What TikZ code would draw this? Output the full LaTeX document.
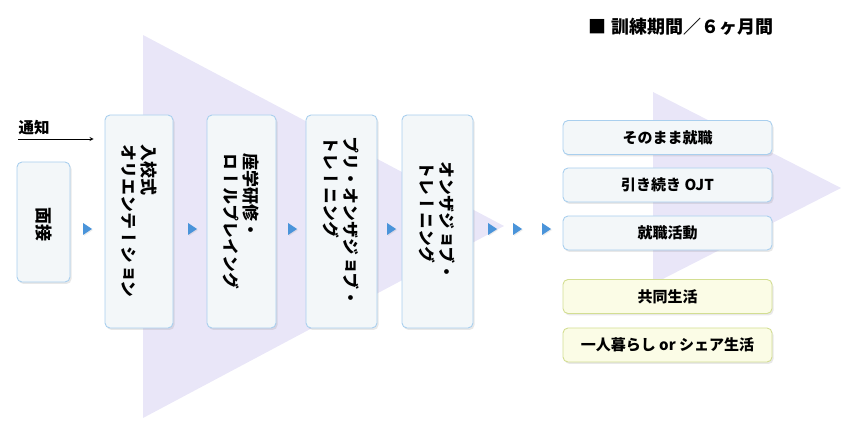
\documentclass[tikz,border=0pt]{standalone}
\usepackage{fontspec}
\setmainfont{Noto Sans CJK JP}
\newfontfamily\tate[Vertical=RotatedGlyphs,RawFeature=+vert]{Noto Sans CJK JP}
\usetikzlibrary{shadows}
\definecolor{lav}{HTML}{E9E6F8}
\definecolor{boxfill}{HTML}{F3F7F9}
\definecolor{boxline}{HTML}{A9CFEE}
\definecolor{yfill}{HTML}{FBFCE6}
\definecolor{yline}{HTML}{D3DE92}
\definecolor{tri}{HTML}{4A94DA}
\begin{document}
\begin{tikzpicture}[x=1pt,y=-1pt,>=stealth,
	box/.style={draw=boxline,fill=boxfill,line width=0.9pt,rounded corners=5pt,
		drop shadow={opacity=0.18,shadow xshift=1.5pt,shadow yshift=-2pt}},
	ybox/.style={box,draw=yline,fill=yfill},
	vtext/.style={rotate=-90,align=left,inner sep=0pt,font=\tate\bfseries\fontsize{17}{20}\selectfont},
	htext/.style={font=\bfseries\fontsize{15}{17}\selectfont,minimum width=209,minimum height=34}]
	\useasboundingbox (0,0) rectangle (843,427);
	% background arrows
	\fill[lav] (143,35)--(504,226)--(143,418)--cycle;
	\fill[lav] (653,92)--(841,188)--(653,284)--cycle;
	% title and notice
	\node[font=\bfseries\fontsize{18}{20}\selectfont] (title) at (681,27) {■ 訓練期間／６ヶ月間};
	\node[anchor=west,font=\bfseries\fontsize{15.5}{17}\selectfont] (tsuchi) at (15,128) {通知};
	% steps
	\node[box,minimum width=53,minimum height=120] (mensetsu) at (43.5,222) {};
	\node[vtext] at (43.5,225) {面接};
	\node[box,minimum width=68,minimum height=213] (nyuko) at (139,221.5) {};
	\node[vtext] at (nyuko) {入校式\\オリエンテーション};
	\node[box,minimum width=69,minimum height=213] (zagaku) at (241.5,221.5) {};
	\node[vtext] at (zagaku) {座学研修・\\ロールプレイング};
	\node[box,minimum width=71,minimum height=213] (puri) at (341.5,221.5) {};
	\node[vtext] at (puri) {プリ・オンザジョブ・\\トレーニング};
	\node[box,minimum width=71,minimum height=213] (onza) at (437.5,221.5) {};
	\node[vtext] at (onza) {オンザジョブ・\\トレーニング};
	\coordinate (t0) at (18,139);
	\draw[->,line width=0.8pt,shorten >=11pt] (t0)--(t0-|nyuko.west);
	% results
	\node[box,htext] (shushoku) at (667.5,137.5) {そのまま就職};
	\node[box,htext] (ojt) at (667.5,185) {引き続き OJT};
	\node[box,htext] (katsudo) at (667.5,233) {就職活動};
	\node[ybox,htext] (kyodo) at (667.5,296.5) {共同生活};
	\node[ybox,htext] (hitori) at (667.5,345) {一人暮らし or シェア生活};
	% small arrows
	\foreach \x in {87,192,292,391,492,517,546}
		\fill[tri,drop shadow={opacity=0.15,shadow xshift=1pt,shadow yshift=-1pt}] (\x-4,223)--(\x+5,229)--(\x-4,235)--cycle;
\end{tikzpicture}
\end{document}
